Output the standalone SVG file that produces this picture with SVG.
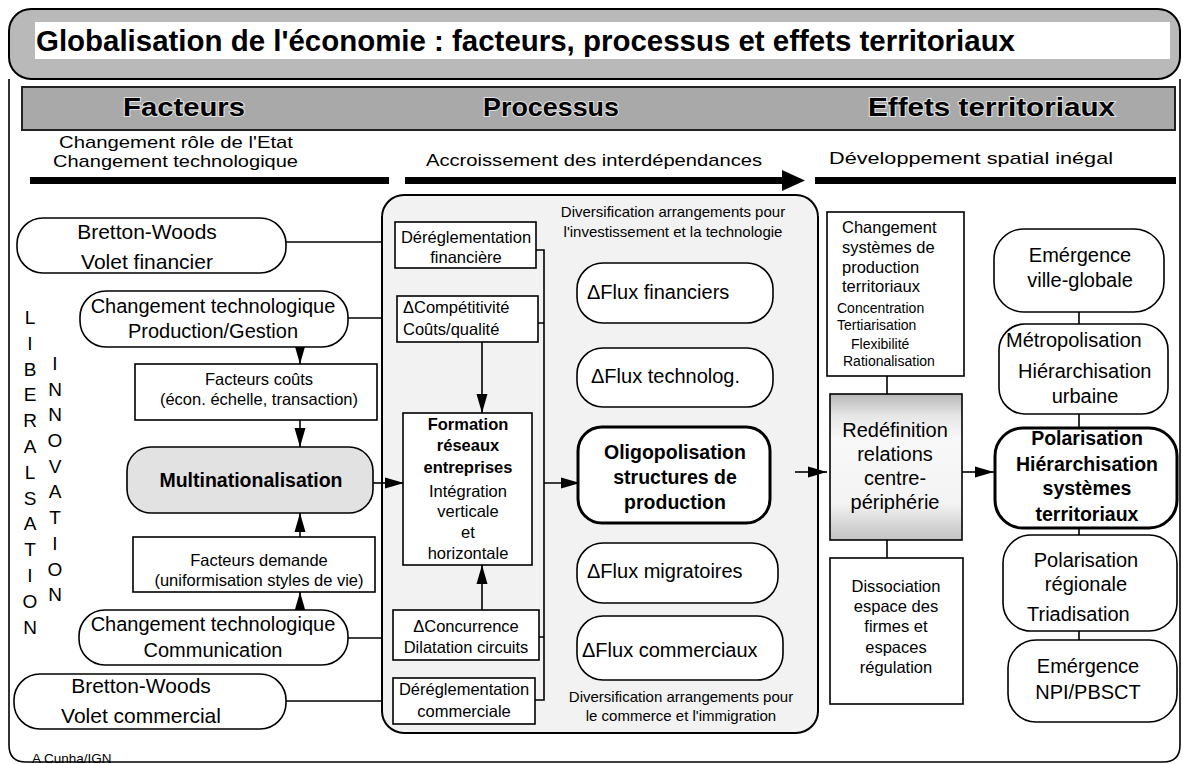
<svg xmlns="http://www.w3.org/2000/svg" width="1183" height="764" viewBox="0 0 1183 764">
<defs>
<style>
.t{font-family:"Liberation Sans",Arial,Helvetica,sans-serif;fill:#000}
.b{font-weight:bold}
.box{fill:#fff;stroke:#000;stroke-width:1.6}
.thick{fill:#fff;stroke:#000;stroke-width:3}
.ln{stroke:#000;stroke-width:1.6;fill:none}
.bar{stroke:#000;stroke-width:7;fill:none}
.s21{font-size:21px}
.s20{font-size:20px}
.s19{font-size:19.5px}
.s17{font-size:16.5px}
.s15{font-size:15px}
.s14{font-size:14px}
</style>
<marker id="ah" markerUnits="userSpaceOnUse" markerWidth="20" markerHeight="12" refX="19" refY="6" orient="auto">
<path d="M0,0.5 L19,6 L0,11.5 z" fill="#000"/>
</marker>
<linearGradient id="redef" x1="0" y1="0" x2="0" y2="1">
<stop offset="0" stop-color="#b8b8b8"/>
<stop offset="0.15" stop-color="#e6e6e6"/>
<stop offset="0.3" stop-color="#f8f8f8"/>
<stop offset="0.75" stop-color="#f4f4f4"/>
<stop offset="0.9" stop-color="#d4d4d4"/>
<stop offset="1" stop-color="#c4c4c4"/>
</linearGradient>
</defs>
<rect width="1183" height="764" fill="#fff"/>

<g id="frame">
<path d="M9,79 V745 Q9,762 26,762 H1163 Q1180,762 1180,745 V79" class="ln" stroke-width="2"/>
<rect x="9" y="9" width="1171" height="70" rx="22" fill="#b9b9b9" stroke="#000" stroke-width="2"/>
<rect x="35" y="22" width="1135" height="37" fill="#fff"/>
<text class="t b" x="36" y="51" font-size="29" textLength="979" lengthAdjust="spacingAndGlyphs">Globalisation de l'économie : facteurs, processus et effets territoriaux</text>
<rect x="22" y="87" width="1153" height="43" fill="#a9a9a9" stroke="#222" stroke-width="2"/>
<g class="t b" font-size="26" stroke="#e0e0e0" stroke-width="2" paint-order="stroke">
<text x="123" y="116" textLength="122" lengthAdjust="spacingAndGlyphs">Facteurs</text>
<text x="483" y="116" textLength="136" lengthAdjust="spacingAndGlyphs">Processus</text>
<text x="868" y="116" textLength="247" lengthAdjust="spacingAndGlyphs">Effets territoriaux</text>
</g>
<text class="t" x="59" y="148" font-size="17" textLength="234" lengthAdjust="spacingAndGlyphs">Changement rôle de l'Etat</text>
<text class="t" x="53" y="167" font-size="17" textLength="245" lengthAdjust="spacingAndGlyphs">Changement technologique</text>
<text class="t" x="426" y="166" font-size="17" textLength="336" lengthAdjust="spacingAndGlyphs">Accroissement des interdépendances</text>
<text class="t" x="829" y="164" font-size="17" textLength="284" lengthAdjust="spacingAndGlyphs">Développement spatial inégal</text>
<line x1="30" y1="180.5" x2="389" y2="180.5" class="bar"/>
<line x1="405" y1="180.5" x2="784" y2="180.5" class="bar"/>
<path d="M782,170 L805,180.5 L782,191 z" fill="#000"/>
<line x1="815" y1="180.5" x2="1176" y2="180.5" class="bar"/>
<g class="t" font-size="19" text-anchor="middle">
<text x="30" y="324">L</text><text x="30" y="350">I</text><text x="30" y="376">B</text><text x="30" y="401">E</text><text x="30" y="427">R</text><text x="30" y="453">A</text><text x="30" y="479">L</text><text x="30" y="505">S</text><text x="30" y="530">A</text><text x="30" y="556">T</text><text x="30" y="582">I</text><text x="30" y="608">O</text><text x="30" y="634">N</text>
<text x="55" y="370">I</text><text x="55" y="396">N</text><text x="55" y="421">N</text><text x="55" y="447">O</text><text x="55" y="473">V</text><text x="55" y="498">A</text><text x="55" y="524">T</text><text x="55" y="550">I</text><text x="55" y="576">O</text><text x="55" y="601">N</text>
</g>
<text class="t" x="32" y="763" font-size="13.5">A Cunha/IGN</text>
</g>

<g id="process-box">
<rect x="382" y="195" width="436" height="538" rx="22" fill="#f2f2f2" stroke="#000" stroke-width="2"/>
<g class="t s15" text-anchor="middle">
<text x="673" y="217">Diversification arrangements pour</text>
<text x="673" y="237">l'investissement et la technologie</text>
<text x="681" y="702">Diversification arrangements pour</text>
<text x="681" y="721">le commerce et l'immigration</text>
</g>
</g>

<g id="connectors">
<line x1="286" y1="242" x2="382" y2="242" class="ln"/>
<line x1="348" y1="318" x2="382" y2="318" class="ln"/>
<line x1="348" y1="638" x2="382" y2="638" class="ln"/>
<line x1="286" y1="701" x2="382" y2="701" class="ln"/>
<line x1="300" y1="347" x2="300" y2="364" class="ln" marker-end="url(#ah)"/>
<line x1="300" y1="420" x2="300" y2="447" class="ln" marker-end="url(#ah)"/>
<line x1="300" y1="537" x2="300" y2="513" class="ln" marker-end="url(#ah)"/>
<line x1="300" y1="610" x2="300" y2="592" class="ln" marker-end="url(#ah)"/>
<line x1="373" y1="483" x2="404" y2="483" class="ln" marker-end="url(#ah)"/>
<line x1="482" y1="342" x2="482" y2="413" class="ln" marker-end="url(#ah)"/>
<line x1="482" y1="610" x2="482" y2="565" class="ln" marker-end="url(#ah)"/>
<path d="M536,250 H544 V700 H535 M538,323 H544 M539,637 H544" class="ln" stroke-width="2.2"/>
<line x1="544" y1="483" x2="580" y2="483" class="ln" marker-end="url(#ah)"/>
<line x1="795" y1="472" x2="827" y2="472" class="ln" marker-end="url(#ah)"/>
<line x1="887" y1="376" x2="887" y2="394" class="ln"/>
<line x1="887" y1="540" x2="887" y2="558" class="ln"/>
<line x1="962" y1="472" x2="994" y2="472" class="ln" marker-end="url(#ah)"/>
<line x1="1079" y1="312" x2="1079" y2="324" class="ln"/>
<line x1="1079" y1="414" x2="1079" y2="428" class="ln"/>
<line x1="1079" y1="528" x2="1079" y2="535" class="ln"/>
<line x1="1079" y1="631" x2="1079" y2="640" class="ln"/>
</g>

<g id="bw-financier">
<rect x="17" y="218" width="269" height="55" rx="26" class="box"/>
<g class="t s21" text-anchor="middle"><text x="147" y="239">Bretton-Woods</text><text x="147" y="269">Volet financier</text></g>
</g>
<g id="ct-production">
<rect x="80" y="291" width="268" height="56" rx="26" class="box"/>
<g class="t s20" text-anchor="middle"><text x="213" y="313">Changement technologique</text><text x="213" y="338">Production/Gestion</text></g>
</g>
<g id="facteurs-couts">
<rect x="135" y="364" width="242" height="56" class="box"/>
<g class="t s17" text-anchor="middle"><text x="259" y="385">Facteurs coûts</text><text x="259" y="405">(écon. échelle, transaction)</text></g>
</g>
<g id="multinationalisation">
<rect x="127" y="447" width="246" height="66" rx="24" fill="#e2e2e2" stroke="#000" stroke-width="1.6"/>
<text class="t b s19" x="251" y="487" text-anchor="middle">Multinationalisation</text>
</g>
<g id="facteurs-demande">
<rect x="133" y="537" width="242" height="55" class="box"/>
<g class="t s17" text-anchor="middle"><text x="259" y="566">Facteurs demande</text><text x="259" y="586">(uniformisation styles de vie)</text></g>
</g>
<g id="ct-communication">
<rect x="79" y="610" width="269" height="55" rx="26" class="box"/>
<g class="t s20" text-anchor="middle"><text x="213" y="631">Changement technologique</text><text x="213" y="657">Communication</text></g>
</g>
<g id="bw-commercial">
<rect x="14" y="674" width="272" height="55" rx="26" class="box"/>
<g class="t s21" text-anchor="middle"><text x="141" y="693">Bretton-Woods</text><text x="141" y="723">Volet commercial</text></g>
</g>

<g id="dereg-fin">
<rect x="395" y="222" width="141" height="46" class="box"/>
<g class="t s17" text-anchor="middle"><text x="466" y="243">Déréglementation</text><text x="466" y="263">financière</text></g>
</g>
<g id="competitivite">
<rect x="397" y="296" width="141" height="46" class="box"/>
<g class="t s17"><text x="403" y="313">ΔCompétitivité</text><text x="403" y="335">Coûts/qualité</text></g>
</g>
<g id="formation-reseaux">
<rect x="403" y="413" width="129" height="152" class="box"/>
<g class="t" font-size="16.5" text-anchor="middle">
<text class="b" x="468" y="430">Formation</text>
<text class="b" x="468" y="451">réseaux</text>
<text class="b" x="468" y="473">entreprises</text>
<text x="468" y="497">Intégration</text>
<text x="468" y="517">verticale</text>
<text x="468" y="538">et</text>
<text x="468" y="559">horizontale</text>
</g>
</g>
<g id="concurrence">
<rect x="393" y="610" width="146" height="50" class="box"/>
<g class="t s17" text-anchor="middle"><text x="466" y="632">ΔConcurrence</text><text x="466" y="653">Dilatation circuits</text></g>
</g>
<g id="dereg-com">
<rect x="393" y="678" width="142" height="46" class="box"/>
<g class="t s17" text-anchor="middle"><text x="464" y="695">Déréglementation</text><text x="464" y="717">commerciale</text></g>
</g>

<g id="flux-financiers">
<rect x="577" y="263" width="196" height="60" rx="26" class="box"/>
<text class="t s20" x="587" y="299">ΔFlux financiers</text>
</g>
<g id="flux-technolog">
<rect x="577" y="348" width="196" height="59" rx="26" class="box"/>
<text class="t s20" x="591" y="383">ΔFlux technolog.</text>
</g>
<g id="oligopolisation">
<rect x="578" y="427" width="192" height="96" rx="24" class="thick"/>
<g class="t b s19" text-anchor="middle"><text x="675" y="459">Oligopolisation</text><text x="675" y="484">structures de</text><text x="675" y="509">production</text></g>
</g>
<g id="flux-migratoires">
<rect x="577" y="543" width="201" height="60" rx="26" class="box"/>
<text class="t s20" x="587" y="578">ΔFlux migratoires</text>
</g>
<g id="flux-commerciaux">
<rect x="577" y="616" width="206" height="64" rx="26" class="box"/>
<text class="t s20" x="582" y="657">ΔFlux commerciaux</text>
</g>

<g id="changement-systemes">
<rect x="827" y="212" width="137" height="164" class="box"/>
<g class="t s17"><text x="842" y="233">Changement</text><text x="842" y="253">systèmes de</text><text x="842" y="273">production</text><text x="842" y="292">territoriaux</text></g>
<g class="t s14"><text x="837" y="313">Concentration</text><text x="837" y="330">Tertiarisation</text><text x="851" y="349">Flexibilité</text><text x="843" y="366">Rationalisation</text></g>
</g>
<g id="redefinition">
<rect x="830" y="394" width="132" height="146" fill="url(#redef)" stroke="#000" stroke-width="1.6"/>
<g class="t s20" text-anchor="middle"><text x="895" y="437">Redéfinition</text><text x="895" y="461">relations</text><text x="895" y="485">centre-</text><text x="895" y="509">périphérie</text></g>
</g>
<g id="dissociation">
<rect x="830" y="558" width="133" height="146" class="box"/>
<g class="t s17" text-anchor="middle"><text x="896" y="592">Dissociation</text><text x="896" y="612">espace des</text><text x="896" y="632">firmes et</text><text x="896" y="653">espaces</text><text x="896" y="673">régulation</text></g>
</g>

<g id="emergence-ville">
<rect x="994" y="229" width="170" height="83" rx="30" class="box"/>
<g class="t s20" text-anchor="middle"><text x="1080" y="262">Emérgence</text><text x="1080" y="287">ville-globale</text></g>
</g>
<g id="metropolisation">
<rect x="999" y="324" width="169" height="90" rx="26" class="box"/>
<g class="t s20"><text x="1006" y="347">Métropolisation</text><text x="1018" y="378">Hiérarchisation</text><text x="1085" y="403" text-anchor="middle">urbaine</text></g>
</g>
<g id="polarisation-hier">
<rect x="995" y="428" width="182" height="100" rx="28" class="thick"/>
<g class="t b s19" text-anchor="middle"><text x="1087" y="445">Polarisation</text><text x="1087" y="471">Hiérarchisation</text><text x="1087" y="495">systèmes</text><text x="1087" y="521">territoriaux</text></g>
</g>
<g id="polarisation-reg">
<rect x="1003" y="535" width="174" height="96" rx="28" class="box"/>
<g class="t s20"><text x="1086" y="567" text-anchor="middle">Polarisation</text><text x="1086" y="591" text-anchor="middle">régionale</text><text x="1027" y="621">Triadisation</text></g>
</g>
<g id="emergence-npi">
<rect x="1008" y="640" width="169" height="82" rx="28" class="box"/>
<g class="t s20" text-anchor="middle"><text x="1088" y="673">Emérgence</text><text x="1088" y="699">NPI/PBSCT</text></g>
</g>
</svg>
